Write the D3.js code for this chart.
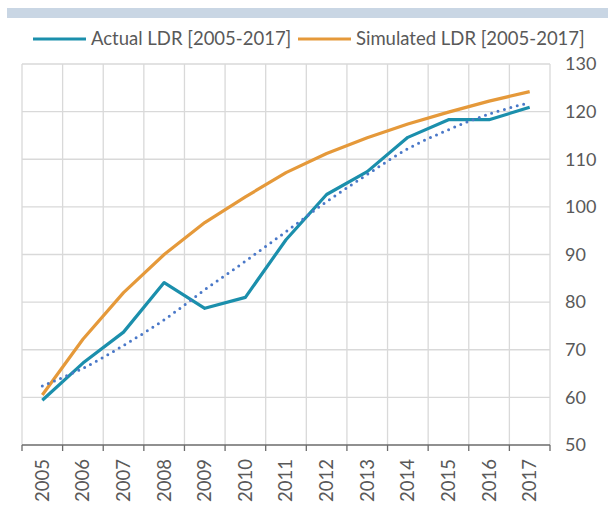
<!DOCTYPE html>
<html>
<head>
<meta charset="utf-8">
<script src="https://cdn.jsdelivr.net/npm/d3@7"></script>
<style>
  body { margin: 0; background: #fff; }
  svg text { font-family: Lato, "Open Sans", sans-serif; fill: #595959; }
</style>
</head>
<body>
<svg id="chart" width="608" height="509"></svg>
<script>
// data
var years = ["2005","2006","2007","2008","2009","2010","2011","2012","2013","2014","2015","2016","2017"];
var actual = [59.4, 67.2, 73.7, 84.1, 78.7, 81.0, 93.1, 102.6, 107.4, 114.6, 118.3, 118.3, 120.9];
var simulated = [60.5, 72.2, 82.0, 90.0, 96.7, 102.1, 107.2, 111.2, 114.5, 117.4, 119.9, 122.2, 124.2];
// dotted trend of the actual series, read at each year
var trend = [62.4, 66.1, 70.9, 76.3, 82.6, 88.6, 94.8, 101.1, 106.8, 112.2, 116.2, 119.5, 121.9];
var yTicks = [50, 60, 70, 80, 90, 100, 110, 120, 130];
var legendLabels = ["Actual LDR [2005-2017]", "Simulated LDR [2005-2017]"];

var blue = "#1b8fac", orange = "#e5993a", dotBlue = "#4a78c8";

var svg = d3.select("#chart");

var margin = {top: 64, right: 58, bottom: 64, left: 22},
    width = +svg.attr("width") - margin.left - margin.right,
    height = +svg.attr("height") - margin.top - margin.bottom;

// top banner
svg.append("rect")
    .attr("x", 7).attr("y", 8)
    .attr("width", 601).attr("height", 10)
    .attr("fill", "#c9d6e4");

var g = svg.append("g").attr("transform", "translate(" + margin.left + "," + margin.top + ")");

var x = d3.scaleBand().domain(years).range([0, width]);
var y = d3.scaleLinear().domain([50, 130]).range([height, 0]);

var cx = function(d) { return x(d) + x.bandwidth() / 2; };

// horizontal grid
g.append("g").selectAll("line")
    .data(yTicks.slice(1))
    .enter().append("line")
    .attr("x1", 0).attr("x2", width)
    .attr("y1", function(d) { return y(d); })
    .attr("y2", function(d) { return y(d); })
    .attr("stroke", "#d9d9d9").attr("stroke-width", 1.3);

// vertical grid at category boundaries
var bounds = years.map(function(d) { return x(d); }).concat([width]);
g.append("g").selectAll("line")
    .data(bounds)
    .enter().append("line")
    .attr("x1", function(d) { return d; }).attr("x2", function(d) { return d; })
    .attr("y1", 0).attr("y2", height)
    .attr("stroke", "#d9d9d9").attr("stroke-width", 1.3);

// y labels on the right
g.append("g").selectAll("text")
    .data(yTicks)
    .enter().append("text")
    .attr("x", width + 15)
    .attr("y", function(d) { return y(d); })
    .attr("dy", "0.35em")
    .style("font-size", "18px")
    .text(function(d) { return d; });

// x axis
var xAxis = g.append("g").attr("transform", "translate(0," + height + ")");
xAxis.append("line")
    .attr("x1", 0).attr("x2", width)
    .attr("stroke", "#6b6b6b").attr("stroke-width", 1.3);
xAxis.selectAll("line.tick")
    .data(bounds)
    .enter().append("line")
    .attr("class", "tick")
    .attr("x1", function(d) { return d; }).attr("x2", function(d) { return d; })
    .attr("y1", 0).attr("y2", 6)
    .attr("stroke", "#6b6b6b").attr("stroke-width", 1.3);
xAxis.selectAll("text")
    .data(years)
    .enter().append("text")
    .attr("transform", function(d) { return "translate(" + cx(d) + ",14) rotate(-90)"; })
    .attr("dy", "0.35em")
    .style("text-anchor", "end")
    .style("font-size", "18.5px")
    .text(function(d) { return d; });

// series
var line = d3.line()
    .x(function(d) { return cx(d.year); })
    .y(function(d) { return y(d.value); });

function pairs(vals) {
    return vals.map(function(v, i) { return {year: years[i], value: v}; });
}

g.append("path")
    .datum(pairs(simulated))
    .attr("fill", "none")
    .attr("stroke", orange)
    .attr("stroke-width", 3.2)
    .attr("stroke-linejoin", "round")
    .attr("d", line);

g.append("path")
    .datum(pairs(actual))
    .attr("fill", "none")
    .attr("stroke", blue)
    .attr("stroke-width", 3.2)
    .attr("stroke-linejoin", "round")
    .attr("d", line);

// trend (dotted, smooth)
g.append("path")
    .datum(pairs(trend))
    .attr("fill", "none")
    .attr("stroke", dotBlue)
    .attr("stroke-width", 3)
    .attr("stroke-linecap", "round")
    .attr("stroke-dasharray", "0 6.6")
    .attr("d", line.curve(d3.curveCatmullRom.alpha(0.5)));

// legend
var legend = svg.append("g");
var legendItems = [
    {label: legendLabels[0], color: blue, x: 33},
    {label: legendLabels[1], color: orange, x: 298}
];
legendItems.forEach(function(d) {
    legend.append("line")
        .attr("x1", d.x).attr("x2", d.x + 53)
        .attr("y1", 39).attr("y2", 39)
        .attr("stroke", d.color).attr("stroke-width", 3.2);
    legend.append("text")
        .attr("x", d.x + 58).attr("y", 39)
        .attr("dy", "0.35em")
        .style("font-size", "18.5px")
        .text(d.label);
});
</script>
</body>
</html>
